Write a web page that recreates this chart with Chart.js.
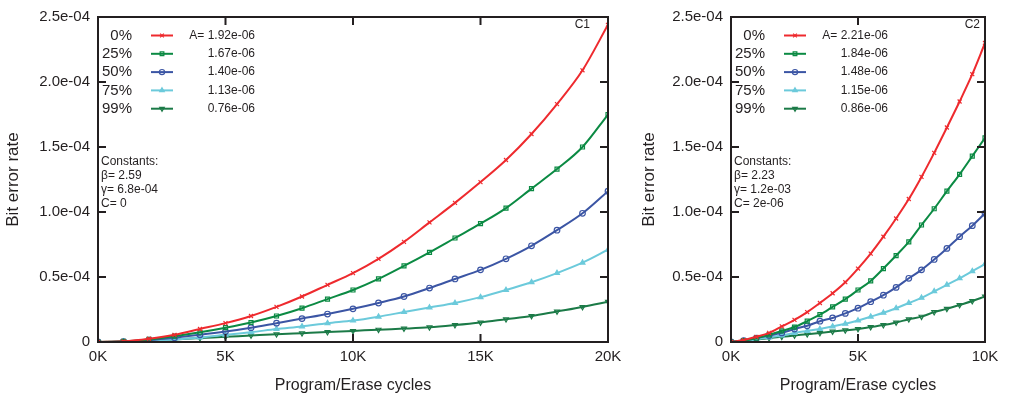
<!DOCTYPE html>
<html>
<head>
<meta charset="utf-8">
<script src="https://cdn.jsdelivr.net/npm/chart.js@4.4.1/dist/chart.umd.min.js"></script>
<style>
  html, body { margin: 0; padding: 0; background: #fff; }
  #chartC1 { position: absolute; left: 0; top: 0; }
  #chartC2 { position: absolute; left: 636px; top: 0; }
</style>
</head>
<body>
<canvas id="chartC1" width="630" height="403"></canvas>
<canvas id="chartC2" width="373" height="403"></canvas>
<script>
/* ===== DATA (bit error rate in units of 1e-4, cycles in K) ===== */
const wearLabels = ["0%", "25%", "50%", "75%", "99%"];
const yTickValues = [0, 0.5, 1.0, 1.5, 2.0, 2.5];
const yTickLabels = ["0", "0.5e-04", "1.0e-04", "1.5e-04", "2.0e-04", "2.5e-04"];

// C1 panel
const cyclesC1 = [0, 1, 2, 3, 4, 5, 6, 7, 8, 9, 10, 11, 12, 13, 14, 15, 16, 17, 18, 19, 20];
const xTicksC1 = ["0K", "5K", "10K", "15K", "20K"];
const berC1_0  = [0, 0.005, 0.025, 0.055, 0.10, 0.145, 0.20, 0.27, 0.35, 0.44, 0.53, 0.64, 0.77, 0.92, 1.07, 1.23, 1.40, 1.60, 1.83, 2.09, 2.44];
const berC1_25 = [0, 0.005, 0.02, 0.045, 0.075, 0.11, 0.15, 0.20, 0.26, 0.33, 0.40, 0.485, 0.585, 0.69, 0.80, 0.91, 1.03, 1.18, 1.33, 1.50, 1.75];
const berC1_50 = [0, 0.003, 0.015, 0.033, 0.055, 0.08, 0.11, 0.145, 0.18, 0.215, 0.255, 0.30, 0.35, 0.415, 0.485, 0.555, 0.64, 0.74, 0.86, 0.99, 1.16];
const berC1_75 = [0, 0.002, 0.008, 0.02, 0.035, 0.055, 0.075, 0.10, 0.12, 0.145, 0.165, 0.195, 0.23, 0.265, 0.30, 0.345, 0.40, 0.46, 0.53, 0.61, 0.71];
const berC1_99 = [0, 0.003, 0.01, 0.02, 0.03, 0.04, 0.05, 0.06, 0.068, 0.076, 0.085, 0.095, 0.103, 0.113, 0.13, 0.15, 0.175, 0.20, 0.235, 0.27, 0.31];
const ampC1 = ["A= 1.92e-06", "1.67e-06", "1.40e-06", "1.13e-06", "0.76e-06"];
const constC1 = ["Constants:", "\u03b2= 2.59", "\u03b3= 6.8e-04", "C= 0"];

// C2 panel
const cyclesC2 = [0, 0.5, 1, 1.5, 2, 2.5, 3, 3.5, 4, 4.5, 5, 5.5, 6, 6.5, 7, 7.5, 8, 8.5, 9, 9.5, 10];
const xTicksC2 = ["0K", "5K", "10K"];
const berC2_0  = [0, 0.015, 0.04, 0.07, 0.12, 0.17, 0.23, 0.30, 0.375, 0.46, 0.565, 0.68, 0.81, 0.95, 1.10, 1.27, 1.455, 1.65, 1.85, 2.06, 2.30];
const berC2_25 = [0, 0.01, 0.03, 0.055, 0.085, 0.115, 0.16, 0.21, 0.27, 0.33, 0.40, 0.47, 0.565, 0.665, 0.77, 0.90, 1.025, 1.16, 1.29, 1.43, 1.57];
const berC2_50 = [0, 0.01, 0.03, 0.05, 0.07, 0.10, 0.125, 0.16, 0.185, 0.22, 0.26, 0.31, 0.36, 0.42, 0.49, 0.555, 0.635, 0.72, 0.81, 0.895, 0.99];
const berC2_75 = [0, 0.008, 0.02, 0.035, 0.05, 0.07, 0.085, 0.10, 0.12, 0.14, 0.165, 0.195, 0.225, 0.26, 0.30, 0.34, 0.39, 0.44, 0.49, 0.545, 0.60];
const berC2_99 = [0, 0.01, 0.02, 0.03, 0.04, 0.05, 0.06, 0.07, 0.08, 0.09, 0.10, 0.115, 0.13, 0.15, 0.175, 0.195, 0.23, 0.255, 0.285, 0.315, 0.35];
const ampC2 = ["A= 2.21e-06", "1.84e-06", "1.48e-06", "1.15e-06", "0.86e-06"];
const constC2 = ["Constants:", "\u03b2= 2.23", "\u03b3= 1.2e-03", "C= 2e-06"];

/* ===== STYLE ===== */
const INK = "#231f20";
const seriesStyle = [
    { color: "#ee2a2e", point: "crossRot", fill: "rgba(0,0,0,0)", rot: 0 },
    { color: "#0b8a43", point: "rect", fill: "rgba(0,0,0,0)", rot: 0 },
    { color: "#3b55a4", point: "circle", fill: "rgba(0,0,0,0)", rot: 0 },
    { color: "#6ccadb", point: "triangle", fill: "#6ccadb", rot: 0 },
    { color: "#1b7a47", point: "triangle", fill: "rgba(0,0,0,0)", rot: 180 }
];

Chart.defaults.font.family = "'Liberation Sans', Arial, sans-serif";
Chart.defaults.color = INK;

/* frame, inward ticks, legend and notes */
const framePlugin = {
    id: "frame",
    afterDraw(chart) {
        const { ctx, chartArea: a, scales: { x, y } } = chart;
        const note = chart.options.plugins.frame;
        ctx.save();
        ctx.strokeStyle = INK;
        ctx.lineWidth = 2;
        ctx.strokeRect(a.left, a.top, a.right - a.left, a.bottom - a.top);
        ctx.beginPath();
        x.ticks.forEach(t => {
            const px = x.getPixelForValue(t.value);
            ctx.moveTo(px, a.bottom); ctx.lineTo(px, a.bottom - 8);
            ctx.moveTo(px, a.top); ctx.lineTo(px, a.top + 8);
        });
        y.ticks.forEach(t => {
            const py = y.getPixelForValue(t.value);
            ctx.moveTo(a.left, py); ctx.lineTo(a.left + 8, py);
            ctx.moveTo(a.right, py); ctx.lineTo(a.right - 8, py);
        });
        ctx.stroke();

        // legend rows
        ctx.textBaseline = "middle";
        wearLabels.forEach((lab, i) => {
            const st = seriesStyle[i];
            const ry = a.top + 18.5 + i * 18.3;
            ctx.fillStyle = INK;
            ctx.textAlign = "right";
            ctx.font = "15px 'Liberation Sans', Arial, sans-serif";
            ctx.fillText(lab, a.left + 34, ry);
            ctx.font = "12px 'Liberation Sans', Arial, sans-serif";
            ctx.fillText(note.amp[i], a.left + 157, ry);

            ctx.strokeStyle = st.color;
            ctx.lineWidth = 2;
            ctx.beginPath();
            ctx.moveTo(a.left + 53, ry); ctx.lineTo(a.left + 75, ry);
            ctx.stroke();
            ctx.fillStyle = st.fill;
            ctx.lineWidth = 1.2;
            Chart.helpers.drawPoint(ctx, { pointStyle: st.point, rotation: st.rot, radius: 2.6, borderWidth: 1.2 }, a.left + 64, ry);
        });

        // constants block
        ctx.fillStyle = INK;
        ctx.textAlign = "left";
        ctx.font = "12px 'Liberation Sans', Arial, sans-serif";
        note.consts.forEach((c, i) => ctx.fillText(c, a.left + 3, a.top + 145 + i * 14));

        // panel tag
        ctx.textAlign = "right";
        ctx.fillText(note.tag, a.right - note.tagInset, a.top + 8);
        ctx.restore();
    }
};

function makeSets(xs, series) {
    return series.map((ys, i) => ({
        label: wearLabels[i],
        data: xs.map((x, j) => ({ x: x, y: ys[j] })),
        borderColor: seriesStyle[i].color,
        backgroundColor: seriesStyle[i].fill,
        pointBackgroundColor: seriesStyle[i].fill,
        pointBorderColor: seriesStyle[i].color,
        pointStyle: seriesStyle[i].point,
        pointRotation: seriesStyle[i].rot,
        pointRadius: 2.8,
        pointBorderWidth: 1.2,
        borderWidth: 2,
        cubicInterpolationMode: "monotone",
        fill: false
    }));
}

function makeChart(id, xs, series, xMax, xTickLabels, yWidth, padRight, note) {
    return new Chart(document.getElementById(id), {
        type: "line",
        data: { datasets: makeSets(xs, series) },
        options: {
            responsive: false,
            animation: false,
            layout: { padding: { top: 10, right: padRight, left: 0, bottom: 0 } },
            plugins: { legend: { display: false }, tooltip: { enabled: false }, frame: note },
            scales: {
                x: {
                    type: "linear", min: 0, max: xMax,
                    grid: { display: false, drawTicks: false },
                    border: { display: false },
                    ticks: {
                        stepSize: 5, padding: 6, maxRotation: 0,
                        font: { size: 15 },
                        callback: (v, i) => xTickLabels[i]
                    },
                    title: { display: true, text: "Program/Erase cycles", font: { size: 16 }, padding: { top: 0, bottom: 8 } },
                    afterFit: s => { s.height = 61; }
                },
                y: {
                    min: 0, max: 2.5,
                    grid: { display: false, drawTicks: false },
                    border: { display: false },
                    ticks: {
                        stepSize: 0.5, padding: 8,
                        font: { size: 15 },
                        callback: v => yTickLabels[yTickValues.indexOf(v)]
                    },
                    title: { display: true, text: "Bit error rate", font: { size: 17 }, padding: { top: 3, bottom: 0 } },
                    afterFit: s => { s.width = yWidth; }
                }
            }
        },
        plugins: [framePlugin]
    });
}

makeChart("chartC1", cyclesC1, [berC1_0, berC1_25, berC1_50, berC1_75, berC1_99], 20, xTicksC1, 98, 22,
    { amp: ampC1, consts: constC1, tag: "C1", tagInset: 18 });
makeChart("chartC2", cyclesC2, [berC2_0, berC2_25, berC2_50, berC2_75, berC2_99], 10, xTicksC2, 95, 24,
    { amp: ampC2, consts: constC2, tag: "C2", tagInset: 5 });
</script>
</body>
</html>
